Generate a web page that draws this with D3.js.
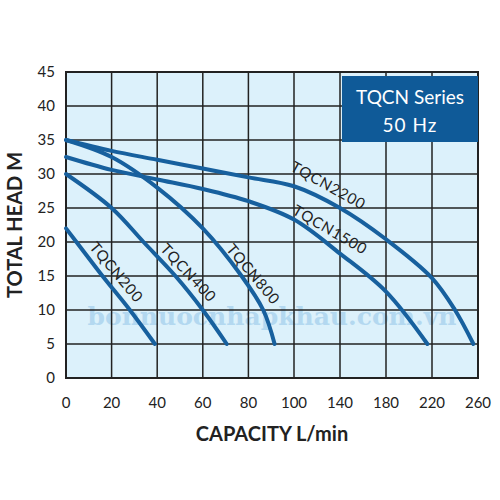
<!DOCTYPE html>
<html><head><meta charset="utf-8">
<script src="https://cdn.jsdelivr.net/npm/d3@7"></script>
<style>body{margin:0;background:#fff}</style>
</head><body>
<svg width="500" height="500"></svg>
<script>
// tick labels on the (non-linear) capacity axis
const xTicks = [0, 20, 40, 60, 80, 100, 140, 180, 220, 260];
const yTicks = [0, 5, 10, 15, 20, 25, 30, 35, 40, 45];

const tqcn200 = [[0,22],[8,18.5],[16,15],[28,10],[39,5]];
const tqcn400 = [[0,30],[20,25],[34,20],[48,15],[60,10],[70.5,5]];
const tqcn800 = [[0,35],[20,32.5],[40,28],[60,22],[77,15],[86.5,10],[91.5,5]];
const tqcn1500 = [[0,32.5],[20,30.6],[40,29.2],[60,27.8],[80,26],[100,23.3],[140,18.3],[180,12.7],[216,5]];
const tqcn2200 = [[0,35],[20,33.4],[40,32.1],[60,30.8],[80,29.5],[100,28.2],[140,25],[180,20.4],[220,14.7],[240,10],[256,5]];

const names = ["TQCN200", "TQCN400", "TQCN800", "TQCN1500", "TQCN2200"];
const curves = [tqcn200, tqcn400, tqcn800, tqcn1500, tqcn2200];
// label baseline start [capacity, head] and angle
const labelAt = [[10, 19.2], [41, 18.9], [70, 18.9], [98.9, 24.2], [98, 30.6]];
const labelAngle = [50, 47, 50, 30, 29];

const svg = d3.select("svg");
const curveColor = "#17609e";
const x = d3.scaleLinear().domain([0, 100, 260]).range([66, 294, 478]);
const y = d3.scaleLinear().domain([0, 45]).range([378, 72]);

svg.append("rect").attr("x", 66).attr("y", 72).attr("width", 412).attr("height", 306)
  .attr("fill", "#dcf1fb");

// watermark
svg.append("text").attr("x", 272).attr("y", 325).attr("text-anchor", "middle")
  .attr("font-family", "DejaVu Serif").attr("font-weight", "bold").attr("font-size", 25)
  .attr("fill", "#a9d3ee").attr("opacity", 0.8).text("bonnuocnhapkhau.com.vn");

const g = svg.append("g");
g.selectAll(".vx").data(xTicks).enter().append("line")
  .attr("x1", d => x(d)).attr("x2", d => x(d)).attr("y1", 72).attr("y2", 378)
  .attr("stroke", "#222").attr("stroke-width", 1.5);
g.selectAll(".hy").data(yTicks).enter().append("line")
  .attr("y1", d => y(d)).attr("y2", d => y(d)).attr("x1", 66).attr("x2", 478)
  .attr("stroke", "#222").attr("stroke-width", 1.5);
svg.append("rect").attr("x", 66).attr("y", 72).attr("width", 412).attr("height", 306)
  .attr("fill", "none").attr("stroke", "#222").attr("stroke-width", 2);

// legend box
svg.append("rect").attr("x", 342).attr("y", 76).attr("width", 136).attr("height", 66).attr("fill", "#0f5a98");
svg.append("text").attr("x", 410).attr("y", 104).attr("text-anchor", "middle").attr("fill", "#fff")
  .attr("font-family", "Lato").attr("font-size", 19).text("TQCN Series");
svg.append("text").attr("x", 410).attr("y", 132).attr("text-anchor", "middle").attr("fill", "#fff")
  .attr("font-family", "Lato").attr("font-size", 19).attr("letter-spacing", 1).text("50 Hz");

const line = d3.line().x(d => x(d[0])).y(d => y(d[1])).curve(d3.curveCatmullRom.alpha(0.5));
curves.forEach((pts, i) => {
  svg.append("path").datum(pts).attr("d", line).attr("fill", "none")
    .attr("stroke", curveColor).attr("stroke-width", 4).attr("stroke-linecap", "round");
  svg.append("text")
    .attr("transform", `translate(${x(labelAt[i][0])},${y(labelAt[i][1])}) rotate(${labelAngle[i]})`)
    .attr("font-family", "Lato").attr("font-size", 15).attr("letter-spacing", 0.8).attr("fill", "#222")
    .text(names[i]);
});

// tick labels
svg.selectAll(".xl").data(xTicks).enter().append("text")
  .attr("x", d => x(d)).attr("y", 408).attr("text-anchor", "middle")
  .attr("font-family", "Lato").attr("font-size", 15).attr("fill", "#222").text(d => d);
svg.selectAll(".yl").data(yTicks).enter().append("text")
  .attr("x", 55).attr("y", d => y(d) + 5).attr("text-anchor", "end")
  .attr("font-family", "Lato").attr("font-size", 15).attr("fill", "#222").text(d => d);

svg.append("text").attr("x", 272).attr("y", 441).attr("text-anchor", "middle")
  .attr("font-family", "Lato").attr("font-weight", "bold").attr("font-size", 20).attr("fill", "#222")
  .text("CAPACITY L/min");
svg.append("text").attr("transform", "translate(22,225) rotate(-90)").attr("text-anchor", "middle")
  .attr("font-family", "Lato").attr("font-weight", "bold").attr("font-size", 20).attr("fill", "#222")
  .text("TOTAL HEAD M");
</script>
</body></html>
